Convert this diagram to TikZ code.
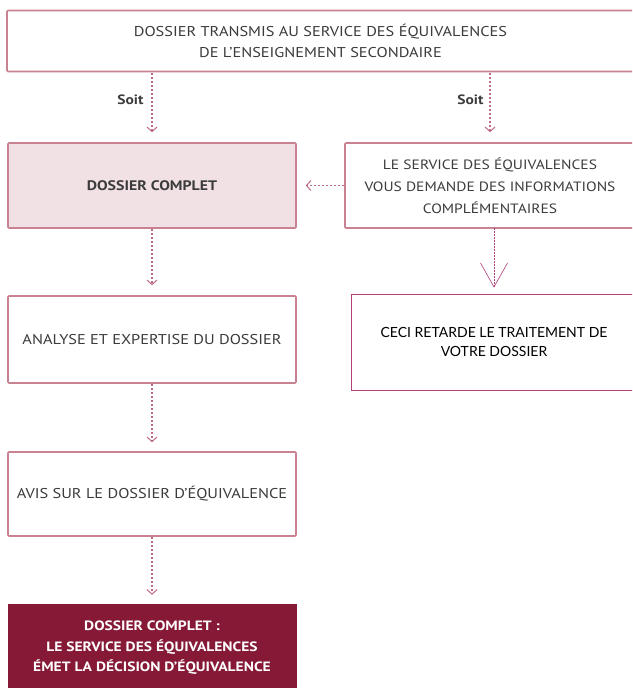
\documentclass[tikz,border=0pt]{standalone}
\usepackage{fontspec}
\setmainfont{PT Sans}[FakeStretch=1.15]
\newfontfamily\ceci{Lato}
\usetikzlibrary{arrows.meta}
\definecolor{boxline}{HTML}{C98292}
\definecolor{boxfill}{HTML}{F1E1E5}
\definecolor{arrcol}{HTML}{BF6A84}
\definecolor{magline}{HTML}{B2407A}
\definecolor{darkred}{HTML}{861A36}
\definecolor{txt}{HTML}{3C3C3C}
\begin{document}
\begin{tikzpicture}[x=1pt,y=-1pt,
  flowbox/.style={draw=boxline,line width=1.6pt,rounded corners=1pt,fill=white,
    text=txt,align=center,font=\fontsize{14.2}{20.5}\selectfont,inner sep=0pt},
  flowarrow/.style={draw=arrcol,line width=1.3pt,dash pattern=on 2pt off 2pt,
    -{Straight Barb[length=4.5pt,width=10pt,line width=1pt]}},
  soitlabel/.style={font=\fontsize{13.5}{15}\selectfont\bfseries,text=txt}]
\fill[white] (0,0) rectangle (632,688);
\clip (0,0) rectangle (632,688);
\node[flowbox,minimum width=627pt,minimum height=61pt] (top) at (320.5,41)
  {DOSSIER TRANSMIS AU SERVICE DES ÉQUIVALENCES\\DE L’ENSEIGNEMENT SECONDAIRE};
\node[flowbox,fill=boxfill,minimum width=288pt,minimum height=85pt,font=\fontsize{13.8}{21}\selectfont\bfseries] (dc) at (152,185.5)
  {DOSSIER COMPLET};
\node[flowbox,minimum width=290pt,minimum height=85pt,font=\fontsize{13.5}{22}\selectfont] (info) at (490,185.5)
  {LE SERVICE DES ÉQUIVALENCES\\VOUS DEMANDE DES INFORMATIONS\\COMPLÉMENTAIRES};
\node[draw=magline,line width=0.8pt,fill=white,text=black,align=center,inner sep=0pt,
  minimum width=286pt,minimum height=96pt,font=\ceci\fontsize{14}{18.5}\selectfont] (ceci) at (494,342)
  {CECI RETARDE LE TRAITEMENT DE\\VOTRE DOSSIER};
\node[flowbox,minimum width=288pt,minimum height=87pt] (ana) at (152,339.5)
  {ANALYSE ET EXPERTISE DU DOSSIER};
\node[flowbox,minimum width=288pt,minimum height=84pt] (avis) at (152,494)
  {AVIS SUR LE DOSSIER D’ÉQUIVALENCE};
\node[draw=darkred,fill=darkred,text=white,align=center,inner sep=0pt,
  minimum width=288pt,minimum height=88pt,font=\fontsize{13.5}{20.5}\selectfont\bfseries] (fin) at (152,648)
  {DOSSIER COMPLET :\\LE SERVICE DES ÉQUIVALENCES\\ÉMET LA DÉCISION D’ÉQUIVALENCE};
\coordinate (t1) at (152,73);
\coordinate (t2) at (490,73);
\draw[flowarrow,shorten >=10pt] (t1) -- (dc.north);
\draw[flowarrow,shorten >=10pt] (t2) -- (info.north);
\node[soitlabel,anchor=east] at (147,100) {Soit};
\node[soitlabel,anchor=east] at (487,100) {Soit};
\draw[flowarrow,shorten >=9pt] (info.west) -- (dc.east);
\draw[flowarrow,shorten >=10pt] (dc.south) -- (ana.north);
\draw[flowarrow,shorten >=9pt] (ana.south) -- (avis.north);
\draw[flowarrow,shorten >=9pt] (avis.south) -- (fin.north);
\coordinate (i1) at (494,228);
\draw[draw=magline,line width=0.6pt,dash pattern=on 1.5pt off 1.5pt,
  -{Straight Barb[length=24pt,width=27pt,line width=0.6pt]},shorten >=6pt] (i1) -- (ceci.north);
\end{tikzpicture}
\end{document}
